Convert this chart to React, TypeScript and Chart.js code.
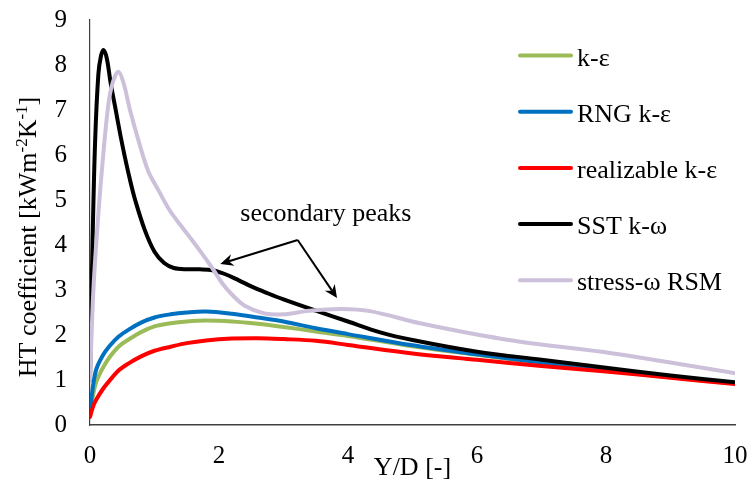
import React, { useEffect, useRef } from "react";
import { Chart, registerables } from "chart.js";

Chart.register(...registerables);

// ---- data ----
const lowX = [0, 0.05, 0.1, 0.2, 0.3, 0.45, 0.6, 0.8, 1.0, 1.25, 1.5, 1.8, 2.2, 2.6, 3.0, 3.5, 4.0, 5, 6, 7, 8, 9, 10];
const kEpsY = [0.25, 0.68, 0.97, 1.27, 1.5, 1.75, 1.9, 2.07, 2.19, 2.26, 2.3, 2.32, 2.3, 2.25, 2.18, 2.08, 1.98, 1.75, 1.56, 1.38, 1.21, 1.06, 0.92];
const rngY = [0.3, 0.9, 1.25, 1.55, 1.75, 1.97, 2.12, 2.28, 2.39, 2.46, 2.5, 2.52, 2.47, 2.39, 2.3, 2.15, 2.02, 1.77, 1.57, 1.39, 1.22, 1.07, 0.93];
const realY = [0.18, 0.42, 0.57, 0.8, 0.98, 1.22, 1.37, 1.53, 1.65, 1.74, 1.82, 1.88, 1.92, 1.93, 1.91, 1.87, 1.78, 1.59, 1.45, 1.31, 1.19, 1.05, 0.91];

const sstX = [0, 0.04, 0.08, 0.13, 0.17, 0.21, 0.26, 0.32, 0.39, 0.47, 0.54, 0.62, 0.7, 0.85, 1.0, 1.15, 1.3, 1.5, 1.7, 1.9, 2.1, 2.3, 2.5, 2.75, 3.0, 3.5, 4.0, 4.5, 5, 6, 7, 8, 9, 10];
const sstY = [1.0, 4.1, 6.33, 7.8, 8.2, 8.33, 8.15, 7.6, 7.07, 6.45, 5.96, 5.45, 5.0, 4.33, 3.85, 3.6, 3.49, 3.46, 3.46, 3.44, 3.35, 3.22, 3.08, 2.93, 2.79, 2.54, 2.3, 2.06, 1.89, 1.63, 1.45, 1.27, 1.1, 0.95];

const rsmX = [0, 0.05, 0.1, 0.18, 0.28, 0.35, 0.44, 0.52, 0.62, 0.75, 0.9, 1.06, 1.24, 1.42, 1.68, 1.89, 2.05, 2.2, 2.4, 2.7, 3.0, 3.4, 3.9, 4.34, 5.12, 5.89, 6.67, 8.11, 10];
const rsmY = [1.0, 2.93, 4.1, 5.59, 7.07, 7.6, 7.85, 7.6, 7.0, 6.33, 5.65, 5.22, 4.76, 4.41, 3.92, 3.5, 3.15, 2.9, 2.65, 2.48, 2.46, 2.54, 2.58, 2.53, 2.26, 2.04, 1.85, 1.59, 1.15];

const seriesLabels = ["k-ε", "RNG k-ε", "realizable k-ε", "SST k-ω", "stress-ω RSM"];
const seriesColors = ["#9BBB59", "#0070C0", "#FF0000", "#000000", "#CCC0DA"];
const seriesXs = [lowX, lowX, lowX, sstX, rsmX];
const seriesYs = [kEpsY, rngY, realY, sstY, rsmY];

const xMin = 0, xMax = 10, xStep = 2;
const yMin = 0, yMax = 9, yStep = 1;

const annotationText = "secondary peaks";
const annotationVertex = { x: 3.22, y: 4.11 };
const annotationTips = [{ x: 2.02, y: 3.58 }, { x: 3.83, y: 2.82 }];
const annotationTextPos = { x: 2.33, y: 4.53 };

const FONT = '"Liberation Serif", "Times New Roman", serif';

function drawArrow(ctx: CanvasRenderingContext2D, x1: number, y1: number, x2: number, y2: number) {
  const ang = Math.atan2(y2 - y1, x2 - x1);
  const len = 13;
  const half = 6;
  const back = 4;
  const bx = x2 - len * Math.cos(ang);
  const by = y2 - len * Math.sin(ang);
  ctx.beginPath();
  ctx.moveTo(x1, y1);
  ctx.lineTo(x2 - (len - back) * Math.cos(ang), y2 - (len - back) * Math.sin(ang));
  ctx.stroke();
  ctx.beginPath();
  ctx.moveTo(x2, y2);
  ctx.lineTo(bx - half * Math.sin(ang), by + half * Math.cos(ang));
  ctx.lineTo(x2 - (len - back) * Math.cos(ang), y2 - (len - back) * Math.sin(ang));
  ctx.lineTo(bx + half * Math.sin(ang), by - half * Math.cos(ang));
  ctx.closePath();
  ctx.fill();
}

const decorPlugin = {
  id: "decor",
  afterDraw(chart: any) {
    const ctx: CanvasRenderingContext2D = chart.ctx;
    const xs = chart.scales.x;
    const ys = chart.scales.y;
    const area = chart.chartArea;
    ctx.save();
    ctx.fillStyle = "#000";
    ctx.strokeStyle = "#000";

    // x axis title
    ctx.font = `26px ${FONT}`;
    ctx.textAlign = "center";
    ctx.textBaseline = "alphabetic";
    ctx.fillText("Y/D [-]", (area.left + area.right) / 2, 475);

    // y axis title with superscripts
    const parts = [
      { t: "HT coefficient [kWm", sup: false },
      { t: "-2", sup: true },
      { t: "K", sup: false },
      { t: "-1", sup: true },
      { t: "]", sup: false },
    ];
    const fontFor = (sup: boolean) => (sup ? `17px ${FONT}` : `26px ${FONT}`);
    let total = 0;
    for (const p of parts) {
      ctx.font = fontFor(p.sup);
      total += ctx.measureText(p.t).width;
    }
    ctx.save();
    ctx.translate(36, 237);
    ctx.rotate(-Math.PI / 2);
    ctx.textAlign = "left";
    let cx = -total / 2;
    for (const p of parts) {
      ctx.font = fontFor(p.sup);
      ctx.fillText(p.t, cx, p.sup ? -9 : 0);
      cx += ctx.measureText(p.t).width;
    }
    ctx.restore();

    // legend
    ctx.font = `26px ${FONT}`;
    ctx.textAlign = "left";
    ctx.textBaseline = "alphabetic";
    ctx.lineCap = "round";
    for (let i = 0; i < seriesLabels.length; i++) {
      const ly = 55.5 + i * 56.2;
      ctx.strokeStyle = seriesColors[i];
      ctx.lineWidth = 4;
      ctx.beginPath();
      ctx.moveTo(520, ly);
      ctx.lineTo(571, ly);
      ctx.stroke();
      ctx.fillStyle = "#000";
      ctx.fillText(seriesLabels[i], 577, ly + 10);
    }

    // annotation
    ctx.fillStyle = "#000";
    ctx.strokeStyle = "#000";
    ctx.lineCap = "butt";
    ctx.lineWidth = 2;
    ctx.font = `26px ${FONT}`;
    ctx.fillText(annotationText, xs.getPixelForValue(annotationTextPos.x), ys.getPixelForValue(annotationTextPos.y));
    const vx = xs.getPixelForValue(annotationVertex.x);
    const vy = ys.getPixelForValue(annotationVertex.y);
    for (const t of annotationTips) {
      drawArrow(ctx, vx, vy, xs.getPixelForValue(t.x), ys.getPixelForValue(t.y));
    }
    ctx.restore();
  },
};

export default function App() {
  const canvasRef = useRef<HTMLCanvasElement | null>(null);

  useEffect(() => {
    document.body.style.margin = "0";
    const canvas = canvasRef.current;
    if (!canvas) return;
    const datasets = seriesLabels.map((label, i) => ({
      label,
      data: seriesXs[i].map((x, j) => ({ x, y: seriesYs[i][j] })),
      borderColor: seriesColors[i],
      backgroundColor: seriesColors[i],
      borderWidth: 4,
      pointRadius: 0,
      tension: 0.35,
      borderCapStyle: "round" as const,
      borderJoinStyle: "round" as const,
      fill: false,
      order: seriesLabels.length - i,
    }));
    const chart = new Chart(canvas, {
      type: "line",
      data: { datasets },
      options: {
        responsive: false,
        animation: false,
        layout: { padding: { top: 20, right: 13, left: 0, bottom: 0 } },
        plugins: { legend: { display: false }, tooltip: { enabled: false } },
        scales: {
          x: {
            type: "linear",
            min: xMin,
            max: xMax,
            grid: { display: false, drawTicks: false },
            border: { display: true, color: "#404040", width: 1.5 },
            ticks: {
              stepSize: xStep,
              color: "#000",
              padding: 16,
              maxRotation: 0,
              font: { family: FONT, size: 25 },
            },
            afterFit: (s: any) => {
              s.height = 60;
              s.paddingLeft = 0;
              s.paddingRight = 0;
            },
          },
          y: {
            type: "linear",
            min: yMin,
            max: yMax,
            grid: { display: false, drawTicks: false },
            border: { display: true, color: "#404040", width: 1.2 },
            ticks: {
              stepSize: yStep,
              color: "#000",
              padding: 23,
              font: { family: FONT, size: 25 },
            },
            afterFit: (s: any) => {
              s.width = 90;
              s.paddingTop = 0;
              s.paddingBottom = 0;
            },
          },
        },
      },
      plugins: [decorPlugin],
    });
    return () => chart.destroy();
  }, []);

  return (
    <div style={{ width: 748, height: 485 }}>
      <canvas ref={canvasRef} width={748} height={485} />
    </div>
  );
}
